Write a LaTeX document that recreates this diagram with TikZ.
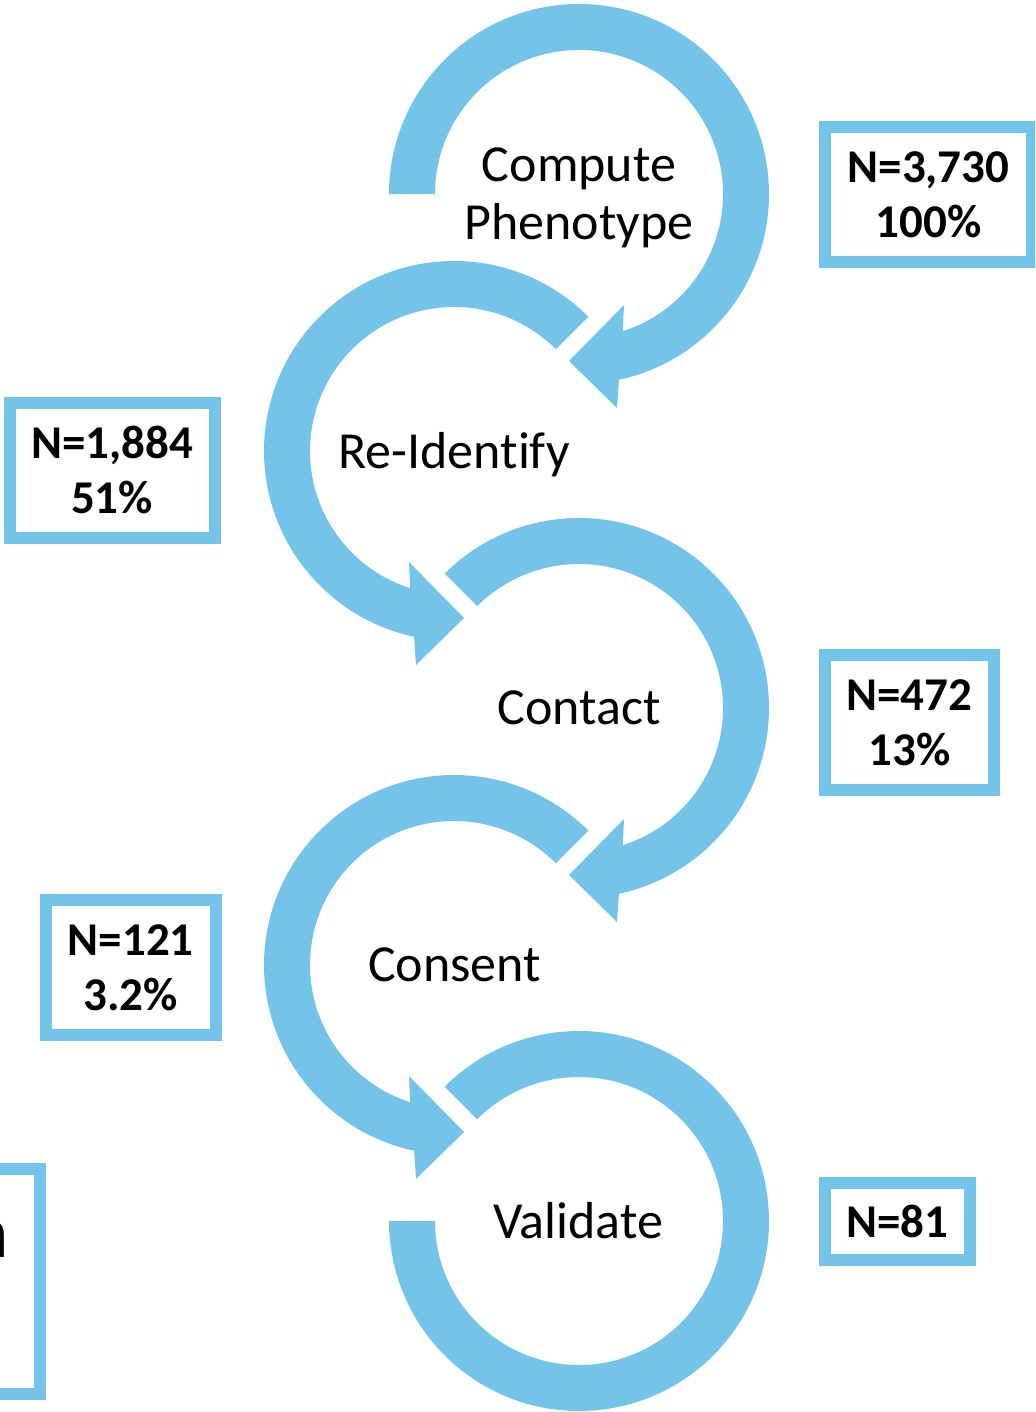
\documentclass[tikz,border=0pt]{standalone}
\usepackage{fontspec}
\setmainfont{Carlito}[Ligatures={NoCommon}]
\definecolor{loopblue}{RGB}{115,196,232}
\tikzset{
  loopband/.style={fill=loopblue},
  countbox/.style={draw=loopblue, line width=12pt, fill=white, inner sep=0pt,
    align=center, font=\bfseries\fontsize{47}{55}\selectfont},
  stagelabel/.style={inner sep=0pt, align=center, anchor=base,
    font=\fontsize{52}{58}\selectfont},
}
% One circular band with an arrowhead, drawn around the local origin.
% #1 = angle where the band starts; it runs clockwise (y points down).
\newcommand\looparrow[1]{%
  \fill[loopband] (#1:190) arc[start angle=#1, end angle=437.86, radius=190]
    -- (38,214) -- (-10,167) -- (45,111) -- (432.3:144)
    arc[start angle=432.3, end angle=#1, radius=144] -- cycle;}
\begin{document}
\begin{tikzpicture}[x=1pt,y=-1pt]
\useasboundingbox (0,0) rectangle (1035,1412);
\clip (0,0) rectangle (1035,1412);

% stage loops
\begin{scope}[shift={(579,194)}] \looparrow{180} \end{scope}
\begin{scope}[shift={(454,451)}, xscale=-1] \looparrow{225} \end{scope}
\begin{scope}[shift={(579,708)}] \looparrow{225} \end{scope}
\begin{scope}[shift={(454,965)}, xscale=-1] \looparrow{225} \end{scope}
\begin{scope}[shift={(579,1221)}]
  \fill[loopband] (225:190) arc[start angle=225, end angle=540, radius=190]
    -- (540:144) arc[start angle=540, end angle=225, radius=144] -- cycle;
\end{scope}

% stage names (kern keeps t and i as separate letters)
\node[stagelabel] (compute) at (579,240) {Compute\\Phenotype};
\node[stagelabel] (reidentify) at (454,468.5) {Re-Ident\kern0pt ify};
\node[stagelabel] (contact) at (579,724.5) {Contact};
\node[stagelabel] (consent) at (454.5,981.5) {Consent};
\node[stagelabel] (validate) at (578,1238) {Validate};

% counts
\node[countbox, minimum width=207pt, minimum height=135pt] (ncompute) at (928.5,194.5) {N=3,730\\100\%};
\node[countbox, minimum width=205pt, minimum height=135pt] (nreid) at (112,470) {N=1,884\\51\%};
\node[countbox, minimum width=169pt, minimum height=135pt] (ncontact) at (909.5,722.5) {N=472\\13\%};
\node[countbox, minimum width=170pt, minimum height=135pt] (nconsent) at (130.8,967.6) {N=121\\3.2\%};
\node[countbox, minimum width=145pt, minimum height=77pt] (nvalidate) at (897.3,1221.2) {N=81};
\node[countbox, minimum width=208pt, minimum height=225pt] (noteframe) at (-64.5,1281.3) {};
\node[inner sep=0pt, anchor=base east, font=\bfseries\fontsize{74}{80}\selectfont] (notetext) at (8,1257.7) {n};
\end{tikzpicture}
\end{document}
